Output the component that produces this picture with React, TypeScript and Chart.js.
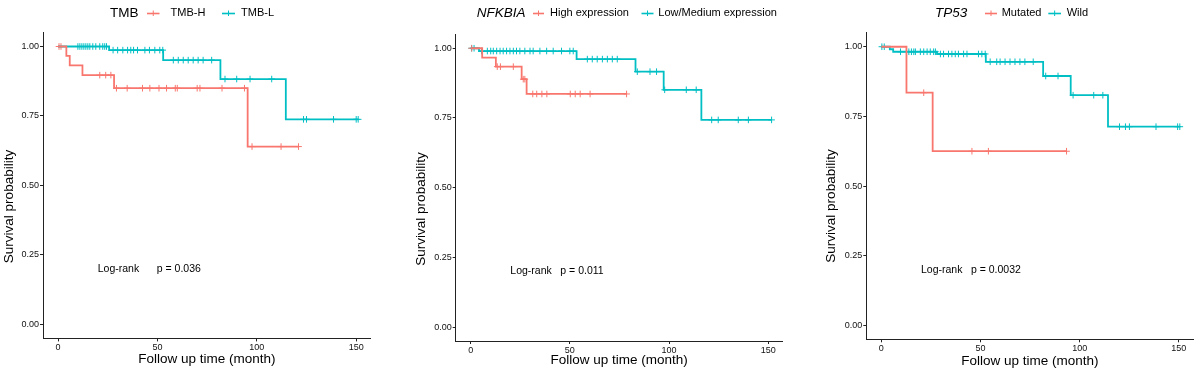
import React, { useEffect, useRef } from 'react';
import { Chart, registerables } from 'chart.js';

Chart.register(...registerables);

const RED = '#F8766D';
const TEAL = '#00BFC4';
const FONT = '"Liberation Sans", Arial, Helvetica, sans-serif';

// ---------- Data ----------
const xTicks = [0, 50, 100, 150];
const yTicks = [0, 0.25, 0.5, 0.75, 1];

// Panel 1: TMB
const tmbHTimes = [0, 4.2, 5.9, 12.3, 28.2, 95.4, 121];
const tmbHSurv = [1, 0.966, 0.932, 0.897, 0.85, 0.64, 0.64];
const tmbHCensor = [0.5, 1.5, 21, 24, 26.6, 29.4, 34.8, 42.5, 46.2, 50.8, 54.6, 59, 60, 70, 71.4, 82.5, 93.8, 97.6, 112.2, 121];

const tmbLTimes = [0, 25.7, 52.9, 81.7, 114.6, 151];
const tmbLSurv = [1, 0.987, 0.951, 0.883, 0.738, 0.738];
const tmbLCensor = [10, 11, 12, 13, 14, 15, 16, 17.5, 19, 21, 22.5, 23.5, 24.4, 27.7, 30, 32.6, 35, 36.6, 38, 40, 43.7, 46, 48.7, 51.2, 52.7, 58, 60.5, 63, 65.5, 68, 70.5, 73, 77.3, 84, 89.9, 96.6, 107.5, 123.5, 125, 138.6, 150, 151];

// Panel 2: NFKBIA
const nfHighTimes = [0, 5.8, 12.7, 25.7, 28.2, 78.6];
const nfHighSurv = [1, 0.966, 0.934, 0.889, 0.836, 0.836];
const nfHighCensor = [0.5, 13.4, 15, 21.5, 26.5, 27.3, 31.3, 33.3, 35.9, 38.4, 50.2, 52.7, 55.2, 60.2, 78.6];

const nfLowTimes = [0, 4.2, 53.4, 83.1, 97.3, 116.3, 151.7];
const nfLowSurv = [1, 0.99, 0.961, 0.916, 0.851, 0.743, 0.743];
const nfLowCensor = [0.5, 1.7, 5.5, 8.4, 10.1, 11.4, 13.1, 14.8, 16.4, 18.1, 19.8, 21.5, 23.1, 24.8, 27.3, 29.9, 31.5, 34.9, 38.3, 41.6, 45.8, 50, 51.7, 58.8, 61.3, 63.8, 66.4, 68.9, 71.4, 73.9, 84, 90.4, 93.7, 97.8, 108.7, 113.7, 121.5, 124.8, 134.9, 140, 151.7];

// Panel 3: TP53
const tpMutTimes = [0, 12.7, 25.9, 93.4];
const tpMutSurv = [1, 0.835, 0.625, 0.625];
const tpMutCensor = [21.4, 45.7, 54, 93.4];

const tpWildTimes = [0, 4.3, 6, 28.1, 52.7, 81.6, 95.5, 114.3, 150.5];
const tpWildSurv = [1, 0.991, 0.982, 0.974, 0.946, 0.895, 0.826, 0.713, 0.713];
const tpWildCensor = [0.3, 1.5, 9.7, 12.7, 13.9, 15.2, 16.4, 17.2, 19.7, 21.4, 23.1, 24.7, 26.4, 27.3, 29.8, 31.4, 33.9, 35.6, 37.3, 38.9, 41.5, 43.2, 49, 50.7, 52.4, 54.9, 58.2, 59.9, 62.4, 64.9, 67.4, 69.9, 72.4, 76.6, 82.9, 89.1, 96.7, 107.1, 111.7, 120.1, 123.1, 125.1, 138.5, 149.4, 150.5];

const pValues = ['p = 0.036', 'p = 0.011', 'p = 0.0032'];
const legendTitles = ['TMB', 'NFKBIA', 'TP53'];
const groupNames = [
  ['TMB-H', 'TMB-L'],
  ['High expression', 'Low/Medium expression'],
  ['Mutated', 'Wild'],
];

// ---------- helpers ----------
function survAt(times: number[], surv: number[], t: number) {
  let s = surv[0];
  for (let i = 0; i < times.length; i++) if (times[i] <= t) s = surv[i];
  return s;
}

type Group = { name: string; color: string; times: number[]; surv: number[]; censor: number[] };

type PanelCfg = {
  left: number;
  area: { left: number; right: number; top: number; bottom: number };
  title: string;
  italic: boolean;
  legendX: { title: number; m1: [number, number]; l1: number; m2: [number, number]; l2: number };
  yTitle: [number, number];
  xTitleY: number;
  pText: string;
  pOffset: number;
  groups: Group[];
};

const panels: PanelCfg[] = [
  {
    left: 0,
    area: { left: 43, right: 370.7, top: 32.6, bottom: 338.4 },
    title: legendTitles[0],
    italic: false,
    legendX: { title: 110, m1: [147, 159.5], l1: 170.5, m2: [222, 235], l2: 241 },
    yTitle: [9.5, 206.5],
    xTitleY: 359.3,
    pText: pValues[0],
    pOffset: 59,
    groups: [
      { name: groupNames[0][0], color: RED, times: tmbHTimes, surv: tmbHSurv, censor: tmbHCensor },
      { name: groupNames[0][1], color: TEAL, times: tmbLTimes, surv: tmbLSurv, censor: tmbLCensor },
    ],
  },
  {
    left: 400,
    area: { left: 55.7, right: 382.7, top: 34.3, bottom: 341 },
    title: legendTitles[1],
    italic: true,
    legendX: { title: 76.7, m1: [133, 144], l1: 150, m2: [241.5, 253.5], l2: 258.3 },
    yTitle: [21, 209],
    xTitleY: 360.7,
    pText: pValues[1],
    pOffset: 50,
    groups: [
      { name: groupNames[1][0], color: RED, times: nfHighTimes, surv: nfHighSurv, censor: nfHighCensor },
      { name: groupNames[1][1], color: TEAL, times: nfLowTimes, surv: nfLowSurv, censor: nfLowCensor },
    ],
  },
  {
    left: 800,
    area: { left: 66.3, right: 393.3, top: 32.8, bottom: 339.3 },
    title: legendTitles[2],
    italic: true,
    legendX: { title: 135, m1: [185, 197], l1: 201.7, m2: [248.3, 261], l2: 266.7 },
    yTitle: [31, 206],
    xTitleY: 361.7,
    pText: pValues[2],
    pOffset: 50,
    groups: [
      { name: groupNames[2][0], color: RED, times: tpMutTimes, surv: tpMutSurv, censor: tpMutCensor },
      { name: groupNames[2][1], color: TEAL, times: tpWildTimes, surv: tpWildSurv, censor: tpWildCensor },
    ],
  },
];

function makeDecor(p: PanelCfg) {
  return {
    id: 'kmDecor',
    afterDraw(chart: any) {
      const ctx = chart.ctx as CanvasRenderingContext2D;
      const { chartArea, scales } = chart;
      ctx.save();
      ctx.fillStyle = '#000';
      // y-axis title
      ctx.save();
      ctx.font = `13.5px ${FONT}`;
      ctx.textAlign = 'center';
      ctx.textBaseline = 'middle';
      ctx.translate(p.yTitle[0], p.yTitle[1]);
      ctx.rotate(-Math.PI / 2);
      ctx.fillText('Survival probability', 0, 0);
      ctx.restore();
      // x-axis title
      ctx.font = `13.5px ${FONT}`;
      ctx.textAlign = 'center';
      ctx.textBaseline = 'middle';
      ctx.fillText('Follow up time (month)', (chartArea.left + chartArea.right) / 2, p.xTitleY);
      // log-rank annotation
      ctx.font = `10.5px ${FONT}`;
      ctx.textAlign = 'left';
      const px = scales.x.getPixelForValue(20);
      const py = scales.y.getPixelForValue(0.2);
      ctx.fillText('Log-rank', px, py);
      ctx.fillText(p.pText, px + p.pOffset, py);
      // legend
      const ly = 13;
      ctx.font = `${p.italic ? 'italic ' : ''}13.5px ${FONT}`;
      ctx.fillText(p.title, p.legendX.title, ly);
      const items: [[number, number], number, Group][] = [
        [p.legendX.m1, p.legendX.l1, p.groups[0]],
        [p.legendX.m2, p.legendX.l2, p.groups[1]],
      ];
      for (const [m, lx, g] of items) {
        ctx.strokeStyle = g.color;
        ctx.lineWidth = 1.6;
        ctx.beginPath();
        ctx.moveTo(m[0], ly + 0.5);
        ctx.lineTo(m[1], ly + 0.5);
        ctx.stroke();
        ctx.lineWidth = 1;
        const cx = (m[0] + m[1]) / 2;
        ctx.beginPath();
        ctx.moveTo(cx, ly - 2.5);
        ctx.lineTo(cx, ly + 3);
        ctx.stroke();
        ctx.fillStyle = '#000';
        ctx.font = `11px ${FONT}`;
        ctx.fillText(g.name, lx, ly);
      }
      ctx.restore();
    },
  };
}

function KMPanel({ p }: { p: PanelCfg }) {
  const ref = useRef<HTMLCanvasElement | null>(null);
  useEffect(() => {
    if (!ref.current) return;
    const datasets: any[] = [];
    for (const g of p.groups) {
      datasets.push({
        type: 'line',
        label: g.name,
        data: g.times.map((t, i) => ({ x: t, y: g.surv[i] })),
        borderColor: g.color,
        backgroundColor: g.color,
        borderWidth: 1.8,
        stepped: true,
        pointRadius: 0,
        fill: false,
      });
    }
    for (const g of p.groups) {
      datasets.push({
        type: 'scatter',
        label: g.name + ' censor',
        data: g.censor.map((t) => ({ x: t, y: survAt(g.times, g.surv, t) })),
        borderColor: g.color,
        backgroundColor: g.color,
        pointStyle: 'cross',
        pointRadius: 3.3,
        borderWidth: 1,
      });
    }
    const tickFont = { family: FONT, size: 9 };
    const chart = new Chart(ref.current, {
      type: 'line',
      data: { datasets },
      options: {
        responsive: false,
        animation: false,
        events: [],
        layout: {
          padding: { left: 0, top: p.area.top, right: 400 - p.area.right, bottom: 0 },
        },
        plugins: { legend: { display: false }, tooltip: { enabled: false }, title: { display: false } },
        scales: {
          x: {
            type: 'linear',
            min: -7.55,
            max: 157.3,
            afterBuildTicks: (s: any) => {
              s.ticks = xTicks.map((v) => ({ value: v }));
            },
            afterFit: (s: any) => {
              s.height = 372 - p.area.bottom;
            },
            ticks: { font: tickFont, color: '#111', padding: 1, autoSkip: false, maxRotation: 0 },
            grid: { display: true, drawOnChartArea: false, drawTicks: true, tickLength: 3, color: '#222', lineWidth: 1 },
            border: { display: true, color: '#222', width: 1 },
          },
          y: {
            type: 'linear',
            min: -0.05,
            max: 1.05,
            afterBuildTicks: (s: any) => {
              s.ticks = yTicks.map((v) => ({ value: v }));
            },
            afterFit: (s: any) => {
              s.width = p.area.left;
            },
            ticks: {
              font: tickFont,
              color: '#111',
              padding: 1,
              autoSkip: false,
              callback: (v: any) => Number(v).toFixed(2),
            },
            grid: { display: true, drawOnChartArea: false, drawTicks: true, tickLength: 3, color: '#222', lineWidth: 1 },
            border: { display: true, color: '#222', width: 1 },
          },
        },
      } as any,
      plugins: [makeDecor(p)],
    });
    return () => chart.destroy();
  }, [p]);
  return (
    <canvas
      ref={ref}
      width={400}
      height={372}
      style={{ position: 'absolute', left: p.left, top: 0, width: 400, height: 372 }}
    />
  );
}

export default function App() {
  return (
    <div style={{ position: 'fixed', left: 0, top: 0, width: 1200, height: 372, background: '#fff', overflow: 'hidden' }}>
      {panels.map((p) => (
        <KMPanel key={p.left} p={p} />
      ))}
    </div>
  );
}
